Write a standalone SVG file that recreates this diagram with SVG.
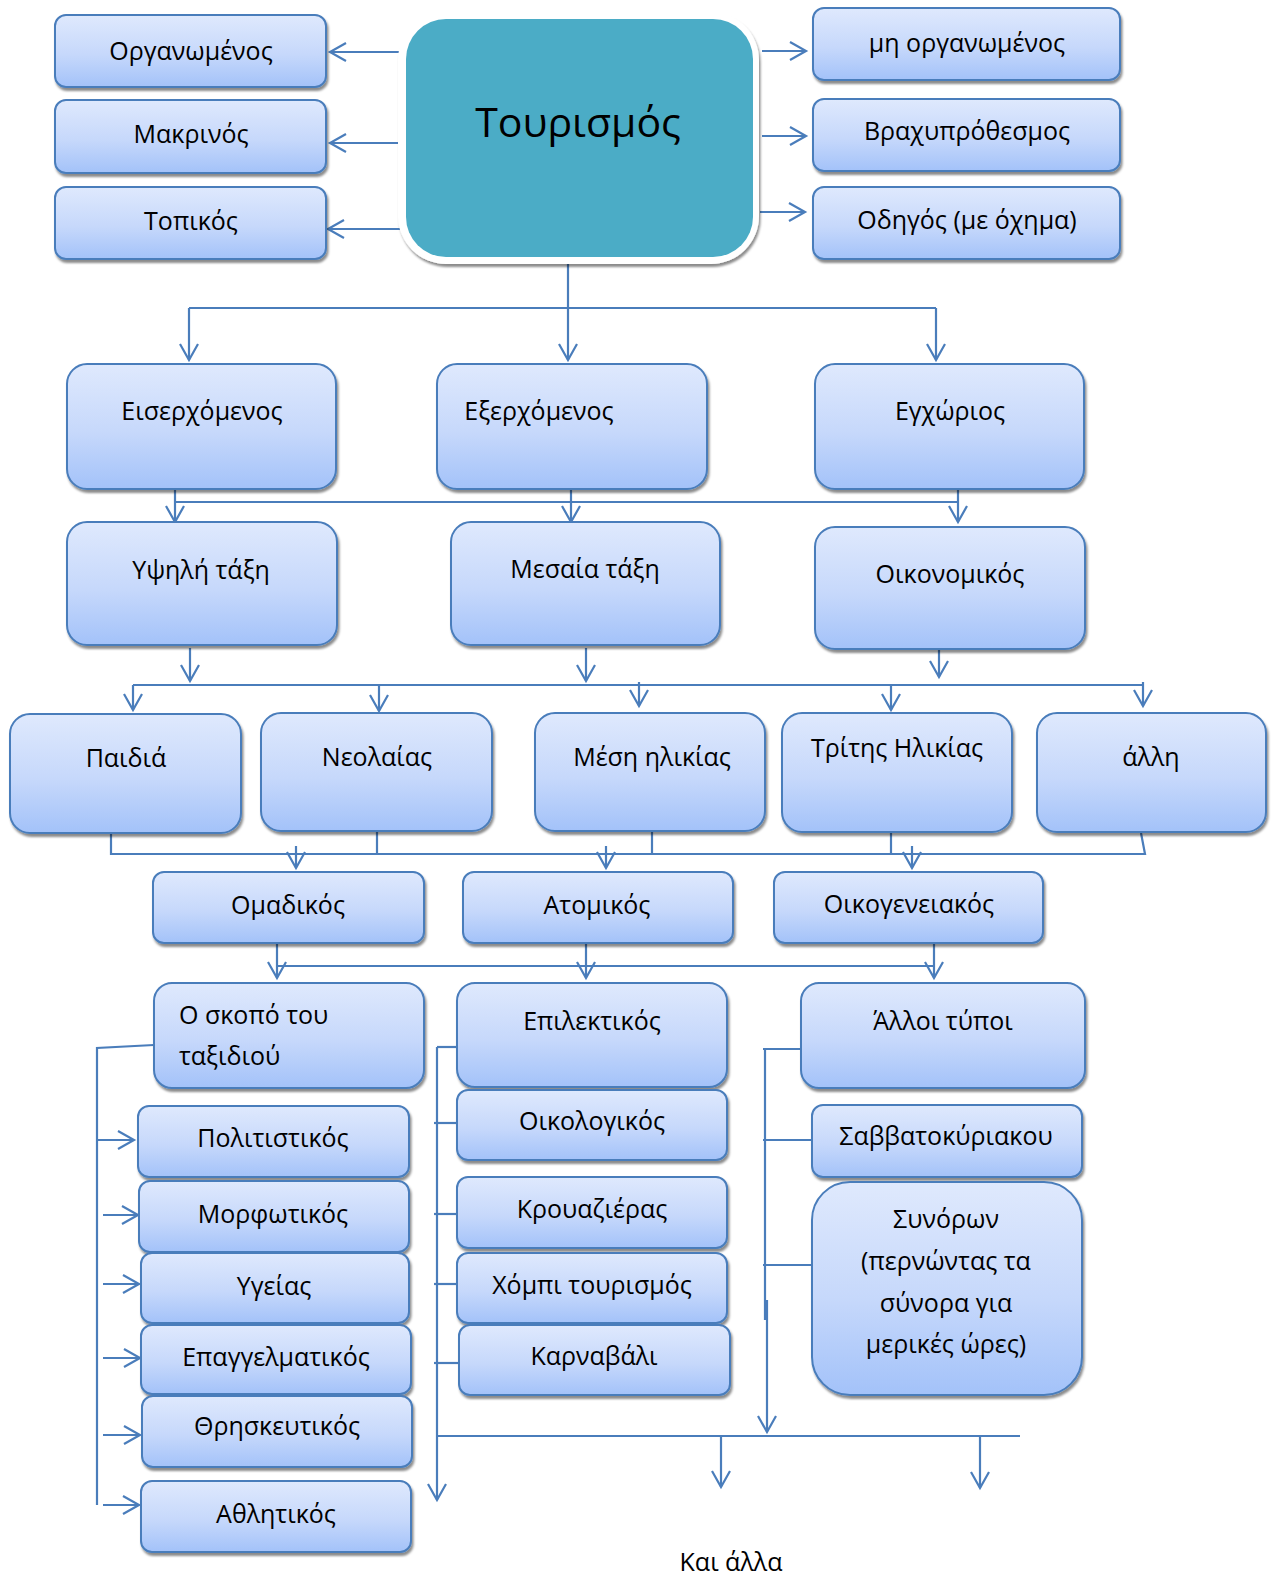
<svg xmlns="http://www.w3.org/2000/svg" width="1273" height="1577" viewBox="0 0 1273 1577">
  <defs>
    <linearGradient id="boxFill" x1="0" y1="0" x2="0" y2="1">
      <stop offset="0" stop-color="#dfe9fd"/>
      <stop offset="0.55" stop-color="#c6d8fb"/>
      <stop offset="1" stop-color="#a3c2f9"/>
    </linearGradient>
    <filter id="shadow" x="-5%" y="-5%" width="112%" height="120%">
      <feDropShadow dx="1.5" dy="3" stdDeviation="1.2" flood-color="#000" flood-opacity="0.45"/>
    </filter>
    <marker id="arrow" markerUnits="userSpaceOnUse" markerWidth="24" markerHeight="24" viewBox="-20 -12 24 24" refX="0" refY="0" orient="auto">
      <path d="M-16,-9 L0,0 L-16,9" fill="none" stroke="#4a7dbb" stroke-width="2.2"/>
    </marker>
    <style>
      .box { fill: url(#boxFill); stroke: #4a7dbb; stroke-width: 2; filter: url(#shadow); }
      .lbl { font-family: "Open Sans", "Noto Sans", sans-serif; font-size: 25px; fill: #000; text-anchor: middle; }
      .lblL { font-family: "Open Sans", "Noto Sans", sans-serif; font-size: 25px; fill: #000; }
      .conn { fill: none; stroke: #4a7dbb; stroke-width: 2.2; }
      .arr { marker-end: url(#arrow); }
    </style>
  </defs>

  <!-- connectors -->
  <g id="connectors" class="conn">
    <!-- root to side categories -->
    <path class="arr" d="M403,52 H330"/>
    <path class="arr" d="M403,143 H330"/>
    <path class="arr" d="M400,229 H328"/>
    <path class="arr" d="M762,51 H806"/>
    <path class="arr" d="M762,136 H806"/>
    <path class="arr" d="M760,212 H805"/>
    <!-- root down to direction row -->
    <path class="arr" d="M568,262 V360"/>
    <path d="M189,308 H936"/>
    <path class="arr" d="M189,308 V360"/>
    <path class="arr" d="M936,308 V360"/>
    <!-- direction row to class row -->
    <path d="M175,502 H958"/>
    <path class="arr" d="M175,490 V522"/>
    <path class="arr" d="M571,490 V522"/>
    <path class="arr" d="M958,490 V522"/>
    <!-- class row to age row -->
    <path class="arr" d="M190,648 V681"/>
    <path class="arr" d="M586,648 V681"/>
    <path class="arr" d="M939,644 V677"/>
    <path d="M133,685 H1144"/>
    <path class="arr" d="M133,685 V710"/>
    <path class="arr" d="M379,685 V711"/>
    <path class="arr" d="M639,682 V706"/>
    <path class="arr" d="M891,685 V710"/>
    <path class="arr" d="M1143,682 V706"/>
    <!-- age row to group row -->
    <path d="M111,833 V854 H1145 L1141,833"/>
    <path d="M377,831 V854"/>
    <path d="M652,831 V854"/>
    <path d="M891,832 V854"/>
    <path class="arr" d="M296,846 V868"/>
    <path class="arr" d="M606,846 V868"/>
    <path class="arr" d="M912,846 V868"/>
    <!-- group row to type row -->
    <path d="M277,966 H934"/>
    <path class="arr" d="M277,943 V978"/>
    <path class="arr" d="M586,943 V978"/>
    <path class="arr" d="M934,943 V978"/>
    <!-- purpose list -->
    <path d="M154,1045 L97,1048 V1505"/>
    <path class="arr" d="M97,1140 H134"/>
    <path class="arr" d="M103,1215 H138"/>
    <path class="arr" d="M103,1284 H139"/>
    <path class="arr" d="M103,1358 H140"/>
    <path class="arr" d="M103,1435 H140"/>
    <path class="arr" d="M103,1505 H139"/>
    <!-- selective list -->
    <path d="M457,1047 H437"/>
    <path class="arr" d="M437,1047 V1500"/>
    <path d="M434,1123 H457"/>
    <path d="M434,1214 H457"/>
    <path d="M434,1284 H457"/>
    <path d="M434,1363 H459"/>
    <path d="M437,1436 H1020"/>
    <path class="arr" d="M721,1436 V1487"/>
    <path class="arr" d="M980,1436 V1488"/>
    <!-- other types list -->
    <path d="M803,1049 H763"/>
    <path d="M765,1049 V1320"/>
    <path class="arr" d="M767,1300 V1432"/>
    <path d="M763,1140 H812"/>
    <path d="M763,1265 H812"/>
  </g>

  <!-- root node -->
  <g id="root">
    <rect x="398" y="12" width="361" height="252" rx="48" fill="#fff" filter="url(#shadow)"/>
    <rect x="406" y="19" width="347" height="238" rx="40" fill="#4bacc6"/>
    <text x="578" y="137" font-family="Open Sans, Noto Sans, sans-serif" font-size="41" text-anchor="middle" fill="#000">Τουρισμός</text>
  </g>

  <g id="organised"><rect class="box" x="55" y="15" width="271" height="72" rx="11"/><text class="lbl" x="191" y="60">Οργανωμένος</text></g>
  <g id="long-haul"><rect class="box" x="55" y="100" width="271" height="73" rx="11"/><text class="lbl" x="191" y="143">Μακρινός</text></g>
  <g id="local"><rect class="box" x="55" y="187" width="271" height="72" rx="11"/><text class="lbl" x="191" y="230">Τοπικός</text></g>

  <g id="unorganised"><rect class="box" x="813" y="8" width="307" height="72" rx="11"/><text class="lbl" x="967" y="52">μη οργανωμένος</text></g>
  <g id="short-term"><rect class="box" x="813" y="99" width="307" height="72" rx="11"/><text class="lbl" x="967" y="140">Βραχυπρόθεσμος</text></g>
  <g id="driving"><rect class="box" x="813" y="187" width="307" height="72" rx="11"/><text class="lbl" x="967" y="229">Οδηγός (με όχημα)</text></g>

  <g id="incoming"><rect class="box" x="67" y="364" width="269" height="125" rx="20"/><text class="lbl" x="202" y="420">Εισερχόμενος</text></g>
  <g id="outgoing"><rect class="box" x="437" y="364" width="270" height="125" rx="20"/><text class="lbl" x="539" y="420">Εξερχόμενος</text></g>
  <g id="domestic"><rect class="box" x="815" y="364" width="269" height="125" rx="20"/><text class="lbl" x="950" y="420">Εγχώριος</text></g>

  <g id="upper-class"><rect class="box" x="67" y="522" width="270" height="123" rx="20"/><text class="lbl" x="201" y="579">Υψηλή τάξη</text></g>
  <g id="middle-class"><rect class="box" x="451" y="522" width="269" height="123" rx="20"/><text class="lbl" x="585" y="578">Μεσαία τάξη</text></g>
  <g id="economy"><rect class="box" x="815" y="527" width="270" height="122" rx="20"/><text class="lbl" x="950" y="583">Οικονομικός</text></g>

  <g id="children"><rect class="box" x="10" y="714" width="231" height="119" rx="20"/><text class="lbl" x="126" y="767">Παιδιά</text></g>
  <g id="youth"><rect class="box" x="261" y="713" width="231" height="118" rx="20"/><text class="lbl" x="377" y="766">Νεολαίας</text></g>
  <g id="middle-age"><rect class="box" x="535" y="713" width="230" height="118" rx="20"/><text class="lbl" x="652" y="766">Μέση ηλικίας</text></g>
  <g id="third-age"><rect class="box" x="782" y="713" width="230" height="119" rx="20"/><text class="lbl" x="897" y="757">Τρίτης Ηλικίας</text></g>
  <g id="other-age"><rect class="box" x="1037" y="713" width="229" height="119" rx="20"/><text class="lbl" x="1151" y="766">άλλη</text></g>

  <g id="group"><rect class="box" x="153" y="872" width="271" height="71" rx="11"/><text class="lbl" x="288" y="914">Ομαδικός</text></g>
  <g id="individual"><rect class="box" x="463" y="872" width="270" height="71" rx="11"/><text class="lbl" x="597" y="914">Ατομικός</text></g>
  <g id="family"><rect class="box" x="774" y="872" width="269" height="71" rx="11"/><text class="lbl" x="909" y="913">Οικογενειακός</text></g>

  <g id="purpose"><rect class="box" x="154" y="983" width="270" height="105" rx="18"/><text class="lblL" x="179" y="1024">Ο σκοπό του</text><text class="lblL" x="179" y="1065">ταξιδιού</text></g>
  <g id="selective"><rect class="box" x="457" y="983" width="270" height="104" rx="18"/><text class="lbl" x="592" y="1030">Επιλεκτικός</text></g>
  <g id="other-types"><rect class="box" x="801" y="983" width="284" height="105" rx="18"/><text class="lbl" x="943" y="1030">Άλλοι τύποι</text></g>

  <g id="cultural"><rect class="box" x="138" y="1106" width="271" height="71" rx="11"/><text class="lbl" x="273" y="1147">Πολιτιστικός</text></g>
  <g id="educational"><rect class="box" x="139" y="1181" width="270" height="71" rx="11"/><text class="lbl" x="273" y="1223">Μορφωτικός</text></g>
  <g id="health"><rect class="box" x="141" y="1253" width="268" height="70" rx="11"/><text class="lbl" x="274" y="1295">Υγείας</text></g>
  <g id="business"><rect class="box" x="141" y="1325" width="270" height="69" rx="11"/><text class="lbl" x="276" y="1366">Επαγγελματικός</text></g>
  <g id="religious"><rect class="box" x="142" y="1396" width="270" height="71" rx="11"/><text class="lbl" x="277" y="1435">Θρησκευτικός</text></g>
  <g id="sports"><rect class="box" x="141" y="1481" width="270" height="71" rx="11"/><text class="lbl" x="276" y="1523">Αθλητικός</text></g>

  <g id="ecological"><rect class="box" x="457" y="1090" width="270" height="70" rx="11"/><text class="lbl" x="592" y="1130">Οικολογικός</text></g>
  <g id="cruise"><rect class="box" x="457" y="1177" width="270" height="71" rx="11"/><text class="lbl" x="592" y="1218">Κρουαζιέρας</text></g>
  <g id="hobby"><rect class="box" x="457" y="1253" width="270" height="70" rx="11"/><text class="lbl" x="592" y="1294">Χόμπι τουρισμός</text></g>
  <g id="carnival"><rect class="box" x="459" y="1325" width="271" height="70" rx="11"/><text class="lbl" x="594" y="1365">Καρναβάλι</text></g>

  <g id="weekend"><rect class="box" x="812" y="1105" width="270" height="72" rx="11"/><text class="lbl" x="946" y="1145">Σαββατοκύριακου</text></g>
  <g id="border"><rect class="box" x="812" y="1182" width="270" height="213" rx="38"/>
    <text class="lbl" x="946" y="1228">Συνόρων</text>
    <text class="lbl" x="946" y="1270">(περνώντας τα</text>
    <text class="lbl" x="946" y="1312">σύνορα για</text>
    <text class="lbl" x="946" y="1353">μερικές ώρες)</text>
  </g>

  <text class="lbl" x="731" y="1571">Και άλλα</text>
</svg>
